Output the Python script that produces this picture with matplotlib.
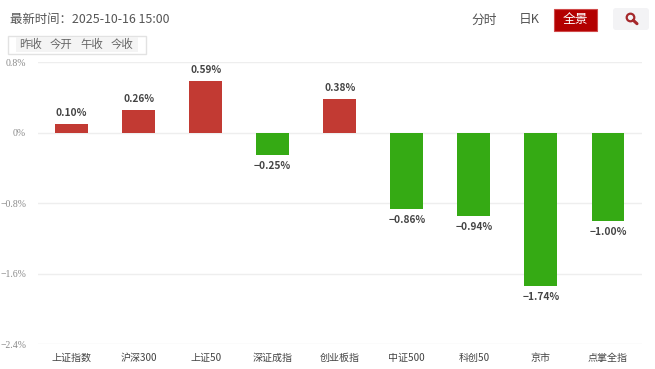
import matplotlib
matplotlib.use("Agg")
import matplotlib.pyplot as plt
from matplotlib.patches import Rectangle, FancyBboxPatch

plt.rcParams['font.family'] = ['Noto Sans CJK SC', 'DejaVu Sans']

categories = ["上证指数", "沪深300", "上证50", "深证成指", "创业板指", "中证500", "科创50", "京市", "点掌全指"]
changes = [0.10, 0.26, 0.59, -0.25, 0.38, -0.86, -0.94, -1.74, -1.00]
y_ticks = [0.8, 0, -0.8, -1.6, -2.4]
y_tick_labels = ["0.8%", "0%", "\u22120.8%", "\u22121.6%", "\u22122.4%"]
legend_items = ["昨收", "今开", "午收", "今收"]

W, H = 655, 369
RED = "#c23a33"
GREEN = "#35aa14"

fig = plt.figure(figsize=(W / 100, H / 100), dpi=100)

# main plot area, placed in pixels
left, right, top, bottom = 38, 641.5, 62.3, 344.3
ax = fig.add_axes([left / W, 1 - bottom / H, (right - left) / W, (bottom - top) / H])
ax.set_xlim(-0.5, len(categories) - 0.5)
ax.set_ylim(-2.4, 0.8)

colors = [RED if v >= 0 else GREEN for v in changes]
ax.bar(range(len(categories)), changes, width=0.49, color=colors, zorder=3)

for i, v in enumerate(changes):
    label = f"{v:.2f}%".replace("-", "\u2212")
    offset = 6 if v >= 0 else -6
    va = "bottom" if v >= 0 else "top"
    ax.annotate(label, (i, v), xytext=(0, offset), textcoords="offset pixels",
                ha="center", va=va, fontsize=7.3, color="#444444", fontweight="bold")

ax.set_yticks(y_ticks)
ax.set_yticklabels(y_tick_labels, fontsize=7, color="#8a8a8a", family="Liberation Serif")
ax.set_xticks(range(len(categories)))
ax.set_xticklabels(categories, fontsize=7.2, color="#444444")
ax.tick_params(axis="both", length=0)
ax.tick_params(axis="x", pad=6.5)
ax.tick_params(axis="y", pad=8.6)
ax.grid(axis="y", color="#eeeeee", linewidth=1, zorder=0)
ax.set_axisbelow(True)
for s in ax.spines.values():
    s.set_visible(False)

# overlay in pixel coordinates for the page controls around the chart
ov = fig.add_axes([0, 0, 1, 1], facecolor="none")
ov.set_xlim(0, W)
ov.set_ylim(H, 0)
ov.axis("off")

ov.text(10, 20, "最新时间：2025-10-16 15:00", fontsize=8.95, color="#555555", va="center")

ov.add_patch(Rectangle((7.5, 35.5), 138, 18, fc="white", ec="#e2e2e2", lw=1))
ov.add_patch(Rectangle((16, 37), 122, 15, fc="#f4f4f4", ec="none"))
for x, item in zip([30.5, 61, 91.5, 122], legend_items):
    ov.text(x, 44.5, item, fontsize=8.2, color="#666666", ha="center", va="center")

ov.text(484, 20, "分时", fontsize=9.2, color="#555555", ha="center", va="center")
ov.text(529.5, 20, "日K", fontsize=9.2, color="#555555", ha="center", va="center")
ov.add_patch(Rectangle((554, 8.5), 42.5, 22, fc="#b30000", ec="#d04a4a", lw=0.8))
ov.text(575.5, 20, "全景", fontsize=9.2, color="white", ha="center", va="center")

ov.add_patch(FancyBboxPatch((613, 8), 36, 22, boxstyle="round,pad=0,rounding_size=3",
                            fc="#f3f3f5", ec="none"))
ov.add_patch(plt.Circle((630.5, 17.5), 3.8, fc="none", ec="#a5282c", lw=1.6))
ov.plot([633.3, 637], [20.3, 23.7], color="#a5282c", lw=2.2, solid_capstyle="round")

fig.savefig("out.png", dpi=100)
